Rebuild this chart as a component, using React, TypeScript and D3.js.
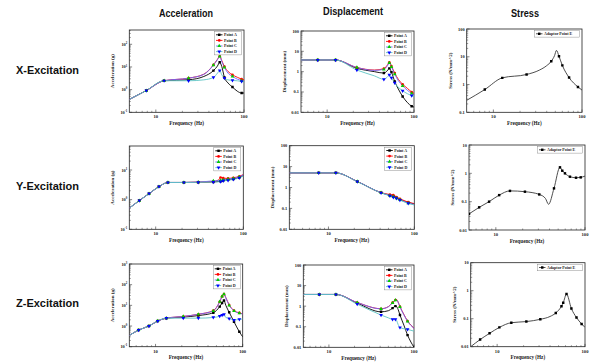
import * as d3 from "d3";

// ---- labels ----
const colTitles = ["Acceleration", "Displacement", "Stress"];
const rowTitles = ["X-Excitation", "Y-Excitation", "Z-Excitation"];
const pointNames = ["Point A", "Point B", "Point C", "Point D"];
const stressName = "Adaptor Point E";
const xTickVals = [10, 100];

// ---- X excitation ----
const accXFreq = [5, 7.8, 12.4, 23.5, 35, 45, 50, 53, 56, 60, 66, 74, 84, 94, 100];
const accXMarks = [7.8, 12.4, 23.5, 45, 53, 60, 74, 94];
const accXA = [0.37, 0.91, 2.47, 2.73, 3.8, 6.9, 11, 16, 10.4, 3.45, 1.95, 1.3, 0.85, 0.71, 0.71];
const accXB = [0.37, 0.91, 2.47, 3.2, 4.8, 12.3, 21.8, 30, 19, 10.4, 6.3, 4.5, 3.5, 2.9, 2.7];
const accXC = [0.37, 0.91, 2.47, 3.2, 4.7, 12, 21, 29, 17.3, 9.5, 5.3, 3.8, 2.9, 2.5, 2.2];
const accXD = [0.37, 0.91, 2.47, 2.46, 2.7, 3.45, 5.3, 7, 4.5, 3.2, 2.7, 2.55, 2.45, 2.3, 2.2];

const dispXFreq = [5, 7.8, 12.5, 22, 35, 45, 50, 52, 55, 60, 66, 74, 84, 94, 100];
const dispXMarks = [7.8, 12.5, 22, 45, 52, 55, 60, 74, 94];
const dispXA = [3.75, 3.75, 3.75, 1.46, 1.0, 0.85, 1.2, 1.45, 0.95, 0.33, 0.14, 0.06, 0.03, 0.02, 0.018];
const dispXB = [3.75, 3.75, 3.75, 1.6, 1.2, 1.4, 2.3, 2.9, 1.9, 0.85, 0.42, 0.24, 0.15, 0.1, 0.085];
const dispXC = [3.75, 3.75, 3.75, 1.6, 1.15, 1.3, 2.1, 2.7, 1.7, 0.75, 0.36, 0.2, 0.12, 0.085, 0.071];
const dispXD = [3.75, 3.75, 3.75, 1.2, 0.62, 0.42, 0.58, 0.7, 0.5, 0.28, 0.17, 0.115, 0.082, 0.066, 0.058];

const stressXFreq = [5, 8, 12.6, 23.7, 33, 40, 45, 49, 51.5, 55, 60, 71.5, 90, 100];
const stressXMarks = [8, 12.6, 23.7, 45, 55, 60, 71.5, 90];
const stressXE = [0.27, 0.66, 1.74, 2.3, 3.3, 4.8, 6.9, 11, 17, 10.4, 4.9, 1.78, 0.82, 0.63];

// ---- Y excitation ----
const accYFreq = [5, 6.5, 8.4, 10.9, 13.8, 21, 30.6, 45.5, 52, 55, 59, 67, 77, 90, 100];
const accYMarks = [6.5, 8.4, 10.9, 13.8, 21, 30.6, 45.5, 55, 59, 67, 77, 90];
const accYA = [0.52, 0.93, 1.6, 2.75, 3.8, 3.8, 3.85, 3.95, 4.1, 4.2, 4.4, 4.7, 5.0, 5.6, 6.5];
const accYB = [0.52, 0.93, 1.6, 2.75, 3.8, 3.8, 3.9, 4.1, 4.6, 5.6, 5.3, 5.2, 5.5, 6.1, 7.0];
const accYC = [0.52, 0.93, 1.6, 2.75, 3.8, 3.8, 3.9, 4.3, 4.4, 4.5, 4.6, 4.9, 5.2, 5.9, 6.8];
const accYD = [0.52, 0.93, 1.6, 2.75, 3.8, 3.8, 3.85, 3.9, 4.0, 4.1, 4.3, 4.5, 4.8, 5.4, 6.2];

const dispYFreq = [3.5, 7.7, 12.2, 21.7, 41, 52, 57, 62, 68, 85, 100];
const dispYMarks = [7.7, 12.2, 21.7, 41, 52, 57, 62, 68, 85];
const dispYA = [5, 5, 5, 1.94, 0.56, 0.42, 0.37, 0.32, 0.27, 0.19, 0.165];
const dispYB = [5, 5, 5, 1.94, 0.57, 0.46, 0.44, 0.35, 0.29, 0.2, 0.17];
const dispYC = [5, 5, 5, 1.94, 0.56, 0.41, 0.36, 0.31, 0.26, 0.18, 0.155];
const dispYD = [5, 5, 5, 1.9, 0.55, 0.4, 0.34, 0.3, 0.25, 0.175, 0.145];

const stressYFreq = [5, 6.5, 8.4, 10.9, 14.4, 21.2, 30.7, 36, 39, 44.9, 52.4, 55.6, 59.6, 67.8, 79.3, 89.5, 100];
const stressYMarks = [5, 6.5, 8.4, 10.9, 14.4, 21.2, 30.7, 44.9, 52.4, 55.6, 59.6, 67.8, 79.3, 89.5];
const stressYE = [0.037, 0.063, 0.1, 0.17, 0.24, 0.225, 0.18, 0.13, 0.081, 0.295, 1.63, 1.24, 1.0, 0.76, 0.7, 0.72, 0.8];

// ---- Z excitation ----
const accZFreq = [5, 6.4, 8.4, 10.6, 13.3, 20.8, 31, 46, 54.5, 58, 61, 64, 70, 79.5, 91.5, 100];
const accZMarks = [6.4, 8.4, 10.6, 13.3, 20.8, 31, 46, 54.5, 58, 61, 70, 79.5, 91.5];
const accZA = [0.35, 0.64, 1.0, 1.75, 2.4, 2.7, 3.2, 4.4, 8.7, 13, 17, 10, 4.6, 1.6, 0.53, 0.3];
const accZB = [0.35, 0.64, 1.0, 1.75, 2.4, 2.9, 3.7, 5.6, 15, 27, 35, 24, 10.4, 5.6, 4.3, 3.9];
const accZC = [0.35, 0.64, 1.0, 1.75, 2.4, 2.9, 3.7, 5.4, 15, 27, 35, 23, 10, 5.4, 4.2, 3.8];
const accZD = [0.35, 0.64, 1.0, 1.75, 2.4, 2.4, 2.4, 2.6, 3.0, 3.4, 3.7, 2.6, 2.3, 1.95, 2.1, 2.2];

const dispZFreq = [5, 7.7, 12.1, 21.5, 41, 50, 56, 60.5, 62.5, 65, 68.4, 76, 84, 92, 100];
const dispZMarks = [7.7, 12.1, 21.5, 41, 56, 60.5, 68.4, 84];
const dispZA = [3.7, 3.7, 3.7, 1.4, 0.53, 0.6, 0.8, 1.0, 0.95, 0.7, 0.37, 0.12, 0.039, 0.018, 0.01];
const dispZB = [3.7, 3.7, 3.7, 1.5, 0.75, 0.95, 1.5, 2.0, 2.1, 1.6, 0.95, 0.4, 0.19, 0.12, 0.085];
const dispZC = [3.7, 3.7, 3.7, 1.5, 0.74, 0.93, 1.45, 1.95, 2.05, 1.55, 0.92, 0.38, 0.18, 0.115, 0.082];
const dispZD = [3.7, 3.7, 3.7, 1.25, 0.37, 0.27, 0.23, 0.23, 0.2, 0.13, 0.092, 0.08, 0.074, 0.067, 0.061];

const stressZFreq = [5, 6.4, 8.2, 10.6, 14.5, 21.5, 31, 40, 46.5, 54, 56.5, 61.6, 70, 80, 91.5, 100];
const stressZMarks = [6.4, 8.2, 10.6, 14.5, 21.5, 31, 46.5, 54, 56.5, 61.6, 70, 80, 91.5];
const stressZE = [0.01, 0.018, 0.03, 0.049, 0.072, 0.079, 0.095, 0.12, 0.16, 0.28, 0.37, 0.76, 0.23, 0.11, 0.065, 0.049];

// ---- styles ----
const lineColors = ["#000000", "#ff0000", "#6a6aff", "#5cc4c4"];
const markColors = ["#000000", "#ff0000", "#00cc00", "#0000ff"];
const shapes = ["square", "circle", "up", "down"];
const stressLine = "#3a3a3a";

const serif = "'Liberation Serif', 'Times New Roman', serif";
const sans = "'Liberation Sans', Arial, sans-serif";
const narrow = "'Liberation Sans Narrow', 'Arial Narrow', 'Liberation Sans', sans-serif";

type Box = { x0: number; x1: number; y0: number; y1: number };
type Series = { name: string; vals: number[]; line: string; mark: string; shape: string };
type PanelDef = {
  box: Box;
  xDomain: [number, number];
  yDomain: [number, number];
  kind: "acc" | "disp" | "stress";
  freqs: number[];
  marks: number[];
  series: Series[];
};

const pts = (vals: number[][]): Series[] =>
  vals.map((v, i) => ({ name: pointNames[i], vals: v, line: lineColors[i], mark: markColors[i], shape: shapes[i] }));
const stressSeries = (v: number[]): Series[] => [
  { name: stressName, vals: v, line: stressLine, mark: "#000000", shape: "square" },
];

const panels: PanelDef[] = [
  { box: { x0: 129.3, x1: 244, y0: 30, y1: 112.3 }, xDomain: [5, 100], yDomain: [0.1, Math.pow(10, 2.63)], kind: "acc",
    freqs: accXFreq, marks: accXMarks, series: pts([accXA, accXB, accXC, accXD]) },
  { box: { x0: 301, x1: 414, y0: 31, y1: 112.3 }, xDomain: [5, 100], yDomain: [0.01, 100], kind: "disp",
    freqs: dispXFreq, marks: dispXMarks, series: pts([dispXA, dispXB, dispXC, dispXD]) },
  { box: { x0: 466.7, x1: 582, y0: 29, y1: 112.3 }, xDomain: [5, 100], yDomain: [0.1, 100], kind: "stress",
    freqs: stressXFreq, marks: stressXMarks, series: stressSeries(stressXE) },

  { box: { x0: 129.3, x1: 243.3, y0: 146, y1: 229.3 }, xDomain: [5, 100], yDomain: [0.1, Math.pow(10, 1.81)], kind: "acc",
    freqs: accYFreq, marks: accYMarks, series: pts([accYA, accYB, accYC, accYD]) },
  { box: { x0: 289.3, x1: 414.3, y0: 145.7, y1: 229.3 }, xDomain: [3.5, 100], yDomain: [0.01, 100], kind: "disp",
    freqs: dispYFreq, marks: dispYMarks, series: pts([dispYA, dispYB, dispYC, dispYD]) },
  { box: { x0: 469, x1: 585, y0: 145, y1: 230 }, xDomain: [5, 100], yDomain: [0.01, 10], kind: "stress",
    freqs: stressYFreq, marks: stressYMarks, series: stressSeries(stressYE) },

  { box: { x0: 129.3, x1: 242.7, y0: 264, y1: 346.7 }, xDomain: [5, 100], yDomain: [0.1, 1000], kind: "acc",
    freqs: accZFreq, marks: accZMarks, series: pts([accZA, accZB, accZC, accZD]) },
  { box: { x0: 303.3, x1: 414, y0: 265, y1: 347.3 }, xDomain: [5, 100], yDomain: [0.01, 100], kind: "disp",
    freqs: dispZFreq, marks: dispZMarks, series: pts([dispZA, dispZB, dispZC, dispZD]) },
  { box: { x0: 470.7, x1: 585, y0: 262.7, y1: 346.7 }, xDomain: [5, 100], yDomain: [0.01, 10], kind: "stress",
    freqs: stressZFreq, marks: stressZMarks, series: stressSeries(stressZE) },
];

const yTitles = { acc: "Acceleration (g)", disp: "Displacement (mm)", stress: "Stress (N/mm^2)" };

function symbolPath(shape: string) {
  const type = shape === "square" ? d3.symbolSquare : shape === "circle" ? d3.symbolCircle : d3.symbolTriangle;
  return d3.symbol().type(type).size(shape === "circle" ? 5.5 : 6)()!;
}

function Marker({ x, y, shape, color }: { x: number; y: number; shape: string; color: string }) {
  return (
    <path
      d={symbolPath(shape)}
      transform={`translate(${x},${y})${shape === "down" ? " rotate(180)" : ""}`}
      fill={color}
    />
  );
}

function decadeTicks([a, b]: [number, number]) {
  const major: number[] = [];
  const minor: number[] = [];
  for (let e = Math.floor(Math.log10(a)); e <= Math.ceil(Math.log10(b)); e++) {
    const base = Math.pow(10, e);
    if (base >= a * 0.999 && base <= b * 1.001) major.push(base);
    for (let m = 2; m <= 9; m++) {
      const v = m * base;
      if (v > a && v < b) minor.push(v);
    }
  }
  return { major, minor };
}

function fmtNum(v: number) {
  return String(Number(v.toPrecision(1)));
}

function Panel({ p, id }: { p: PanelDef; id: number }) {
  const { box } = p;
  const x = d3.scaleLog().domain(p.xDomain).range([box.x0, box.x1]);
  const y = d3.scaleLog().domain(p.yDomain).range([box.y1, box.y0]);
  const line = d3
    .line<number>()
    .x((_, i) => x(p.freqs[i]))
    .y((v) => y(v))
    .curve(d3.curveMonotoneX);

  const xt = decadeTicks(p.xDomain);
  const yt = decadeTicks(p.yDomain);
  const cx = (box.x0 + box.x1) / 2;
  const cy = (box.y0 + box.y1) / 2;

  // legend
  const rowH = 5.6;
  const legW = p.kind === "stress" ? 45 : 27;
  const legX = box.x1 - 2.5 - legW;
  const legY = box.y0 + 1.5;

  return (
    <g>
      <defs>
        <clipPath id={`clip${id}`}>
          <rect x={box.x0} y={box.y0} width={box.x1 - box.x0} height={box.y1 - box.y0} />
        </clipPath>
      </defs>
      <rect x={box.x0} y={box.y0} width={box.x1 - box.x0} height={box.y1 - box.y0} fill="none" stroke="#222" strokeWidth={0.8} />

      {/* x ticks */}
      {xt.minor.map((v) => (
        <line key={`xm${v}`} x1={x(v)} x2={x(v)} y1={box.y1} y2={box.y1 - 1.5} stroke="#333" strokeWidth={0.5} />
      ))}
      {xt.major.map((v) => (
        <line key={`xM${v}`} x1={x(v)} x2={x(v)} y1={box.y1} y2={box.y1 - 2.8} stroke="#333" strokeWidth={0.6} />
      ))}
      {xTickVals.map((v) => (
        <text key={`xl${v}`} x={x(v)} y={box.y1 + 6} fontSize={4.6} fontWeight="bold" fontFamily={serif} textAnchor="middle" fill="#222">
          {v}
        </text>
      ))}

      {/* y ticks */}
      {yt.minor.map((v) => (
        <line key={`ym${v}`} x1={box.x0} x2={box.x0 + 1.5} y1={y(v)} y2={y(v)} stroke="#333" strokeWidth={0.5} />
      ))}
      {yt.major.map((v) => (
        <line key={`yM${v}`} x1={box.x0} x2={box.x0 + 2.8} y1={y(v)} y2={y(v)} stroke="#333" strokeWidth={0.6} />
      ))}
      {yt.major.map((v) =>
        p.kind === "acc" ? (
          <text key={`yl${v}`} x={box.x0 - 2} y={y(v) + 1.5} fontSize={4.4} fontWeight="bold" fontFamily={serif} textAnchor="end" fill="#222">
            10<tspan dy={-1.8} fontSize={3}>{Math.round(Math.log10(v))}</tspan>
          </text>
        ) : (
          <text key={`yl${v}`} x={box.x0 - 2} y={y(v) + 1.5} fontSize={4.4} fontWeight="bold" fontFamily={serif} textAnchor="end" fill="#222">
            {fmtNum(v)}
          </text>
        )
      )}

      {/* axis titles */}
      <text x={cx} y={box.y1 + 12.5} fontSize={5.2} fontWeight="bold" fontFamily={serif} textAnchor="middle" fill="#222">
        Frequency (Hz)
      </text>
      <text
        transform={`translate(${box.x0 - 15},${cy}) rotate(-90)`}
        fontSize={5}
        fontWeight="bold"
        fontFamily={serif}
        textAnchor="middle"
        fill="#222"
      >
        {yTitles[p.kind]}
      </text>

      {/* series */}
      <g clipPath={`url(#clip${id})`}>
        {p.series.map((s) => (
          <path key={s.name} d={line(s.vals)!} fill="none" stroke={s.line} strokeWidth={0.9} />
        ))}
        {p.series.map((s) =>
          p.marks.map((f) => {
            const i = p.freqs.indexOf(f);
            return <Marker key={`${s.name}${f}`} x={x(f)} y={y(s.vals[i])} shape={s.shape} color={s.mark} />;
          })
        )}
      </g>

      {/* legend */}
      <rect x={legX} y={legY} width={legW} height={p.series.length * rowH + 1} fill="#fff" stroke="#777" strokeWidth={0.4} />
      {p.series.map((s, i) => {
        const ly = legY + rowH * (i + 0.5) + 0.5;
        return (
          <g key={`lg${s.name}`}>
            <line x1={legX + 1.5} x2={legX + 8} y1={ly} y2={ly} stroke={s.line} strokeWidth={0.9} />
            <Marker x={legX + 4.75} y={ly} shape={s.shape} color={s.mark} />
            <text x={legX + 9.5} y={ly + 1.4} fontSize={4} fontWeight="bold" fontFamily={serif} fill="#222">
              {s.name}
            </text>
          </g>
        );
      })}
    </g>
  );
}

const colCenters = [186, 353, 525];
const colWidths = [54, 60, 28];
const titleY = [17, 15, 17];
const rowY = [74, 190, 307];

export default function App() {
  return (
    <svg width={609} height={364} viewBox="0 0 609 364" style={{ position: "absolute", left: 0, top: 0, background: "#fff" }}>
      <rect width={609} height={364} fill="#fff" />
      {colTitles.map((t, i) => (
        <text
          key={t}
          x={colCenters[i]}
          y={titleY[i]}
          fontSize={11.5}
          fontWeight="bold"
          fontFamily={narrow}
          textAnchor="middle"
          fill="#111"
          textLength={colWidths[i]}
          lengthAdjust="spacingAndGlyphs"
        >
          {t}
        </text>
      ))}
      {rowTitles.map((t, i) => (
        <text key={t} x={16} y={rowY[i]} fontSize={11} fontWeight="bold" fontFamily={sans} fill="#111" textLength={63} lengthAdjust="spacingAndGlyphs">
          {t}
        </text>
      ))}
      {panels.map((p, i) => (
        <Panel key={i} p={p} id={i} />
      ))}
    </svg>
  );
}
